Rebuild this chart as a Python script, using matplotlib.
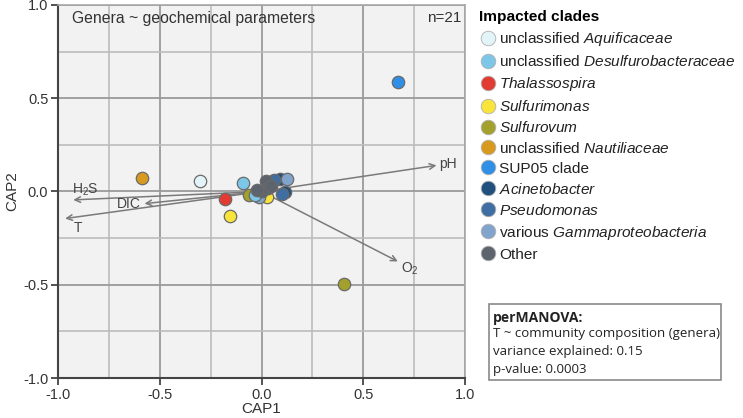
import matplotlib
matplotlib.use('Agg')
import matplotlib.pyplot as plt
from matplotlib.lines import Line2D
from matplotlib.patches import Rectangle
from matplotlib.ticker import MultipleLocator

plt.rcParams['font.family'] = ['Liberation Sans', 'DejaVu Sans']
plt.rcParams['mathtext.fontset'] = 'custom'
plt.rcParams['mathtext.rm'] = 'Liberation Sans'
plt.rcParams['mathtext.it'] = 'Liberation Sans:italic'

# clades: legend label, colour
clade_labels = [
    r'unclassified $\mathit{Aquificaceae}$',
    r'unclassified $\mathit{Desulfurobacteraceae}$',
    r'$\mathit{Thalassospira}$',
    r'$\mathit{Sulfurimonas}$',
    r'$\mathit{Sulfurovum}$',
    r'unclassified $\mathit{Nautiliaceae}$',
    'SUP05 clade',
    r'$\mathit{Acinetobacter}$',
    r'$\mathit{Pseudomonas}$',
    r'various $\mathit{Gammaproteobacteria}$',
    'Other',
]
clade_colors = ['#e3f4f8', '#7cc6e8', '#e23b32', '#f8e43a', '#a3a02b', '#d8991f',
                '#2f8fe6', '#21507f', '#3e6ea2', '#80a4cc', '#5e646d']

# genera scores (CAP1, CAP2) and clade index
cap1 = [-0.30, -0.09, -0.18, -0.155, 0.025, 0.405, -0.06, -0.585, 0.67,
        0.115, 0.09, 0.10, 0.06, 0.125, -0.01, -0.03, 0.02, 0.0, 0.03, -0.02, 0.045]
cap2 = [0.055, 0.045, -0.04, -0.13, -0.03, -0.495, -0.02, 0.075, 0.585,
        -0.005, 0.065, -0.015, 0.06, 0.065, -0.03, -0.02, 0.055, 0.0, 0.02, 0.01, 0.03]
clade_idx = [0, 1, 2, 3, 3, 4, 4, 5, 6, 7, 7, 8, 8, 9, 9, 1, 10, 10, 10, 10, 10]

# environmental vectors
env_names = ['pH', 'O$_2$', 'H$_2$S', 'DIC', 'T']
env_x = [0.86, 0.67, -0.925, -0.575, -0.965]
env_y = [0.14, -0.375, -0.045, -0.065, -0.145]
env_lab_x = [0.875, 0.685, -0.93, -0.65, -0.925]
env_lab_y = [0.145, -0.415, 0.01, -0.065, -0.195]
env_ha = ['left', 'left', 'left', 'center', 'left']

ticks = [-1.0, -0.5, 0.0, 0.5, 1.0]

fig = plt.figure(figsize=(7.43, 4.18), dpi=100)
ax = fig.add_axes([58 / 743, 40 / 418, 407 / 743, 373 / 418])
ax.set_facecolor('#f2f2f2')
ax.set_xlim(-1, 1)
ax.set_ylim(-1, 1)
ax.xaxis.set_minor_locator(MultipleLocator(0.25))
ax.yaxis.set_minor_locator(MultipleLocator(0.25))
ax.set_xticks(ticks)
ax.set_yticks(ticks)
ax.set_xticklabels(['%.1f' % t for t in ticks])
ax.set_yticklabels(['%.1f' % t for t in ticks])
ax.grid(which='major', color='#9a9a9a', lw=1.3, zorder=0)
ax.grid(which='minor', color='#bcbcbc', lw=1.2, zorder=0)
ax.set_axisbelow(True)
ax.tick_params(which='major', length=5, width=1.3, color='#444444', labelsize=10.5,
               labelcolor='#333333', pad=2)
ax.tick_params(which='minor', length=0)
for s in ['left', 'bottom']:
    ax.spines[s].set_color('#444444')
    ax.spines[s].set_linewidth(1.5)
for s in ['top', 'right']:
    ax.spines[s].set_color('#a8a8a8')
    ax.spines[s].set_linewidth(1.2)
ax.set_xlabel('CAP1', fontsize=11, color='#333333', labelpad=0)
ax.set_ylabel('CAP2', fontsize=11, color='#333333', labelpad=3)

# arrows
for name, x, y, lx, ly, ha in zip(env_names, env_x, env_y, env_lab_x, env_lab_y, env_ha):
    ax.annotate('', xy=(x, y), xytext=(0, 0),
                arrowprops=dict(arrowstyle='->', color='#7a7a7a', lw=1.1,
                                shrinkA=0, shrinkB=0), zorder=2)
    ax.text(lx, ly, name, fontsize=10, color='#444444', ha=ha, va='center', zorder=2)

# points
for x, y, c in zip(cap1, cap2, clade_idx):
    ax.scatter(x, y, s=80, color=clade_colors[c], edgecolors='#6a6a6a',
               linewidths=0.9, zorder=3)

ax.text(-0.93, 0.93, 'Genera ~ geochemical parameters', fontsize=11.3,
        color='#333333', va='center')
ax.text(0.98, 0.93, 'n=21', fontsize=11, color='#333333', ha='right', va='center')

# legend
handles = [Line2D([], [], marker='o', ls='none', markersize=10.5,
                  markerfacecolor=c, markeredgecolor='#b0b0b0', markeredgewidth=0.6)
           for c in clade_colors]
leg = fig.legend(handles, clade_labels, loc='upper left',
                 bbox_to_anchor=(470 / 743, 1 - 1 / 418), frameon=False,
                 title='Impacted clades', fontsize=11.1,
                 title_fontproperties={'weight': 'bold', 'size': 11.1},
                 handletextpad=0.2, labelspacing=0.385, handlelength=1.1,
                 alignment='left', borderpad=0.1)
for t in leg.get_texts():
    t.set_color('#222222')

# perMANOVA box
fig.patches.append(Rectangle((489 / 743, 38 / 418), 232 / 743, 76 / 418,
                             transform=fig.transFigure, fill=False,
                             edgecolor='#8a8a8a', lw=1.2))
fig.text(493 / 743, 1 - 318 / 418, 'perMANOVA:', fontsize=10, weight='bold',
         family='Open Sans', va='center', color='#222222')
box_lines = ['T ~ community composition (genera)', 'variance explained: 0.15',
             'p-value: 0.0003']
for i, line in enumerate(box_lines):
    fig.text(493 / 743, 1 - (334 + 17.5 * i) / 418, line, fontsize=9.5,
             family='Open Sans', va='center', color='#222222')

fig.savefig('out.png', dpi=100)
